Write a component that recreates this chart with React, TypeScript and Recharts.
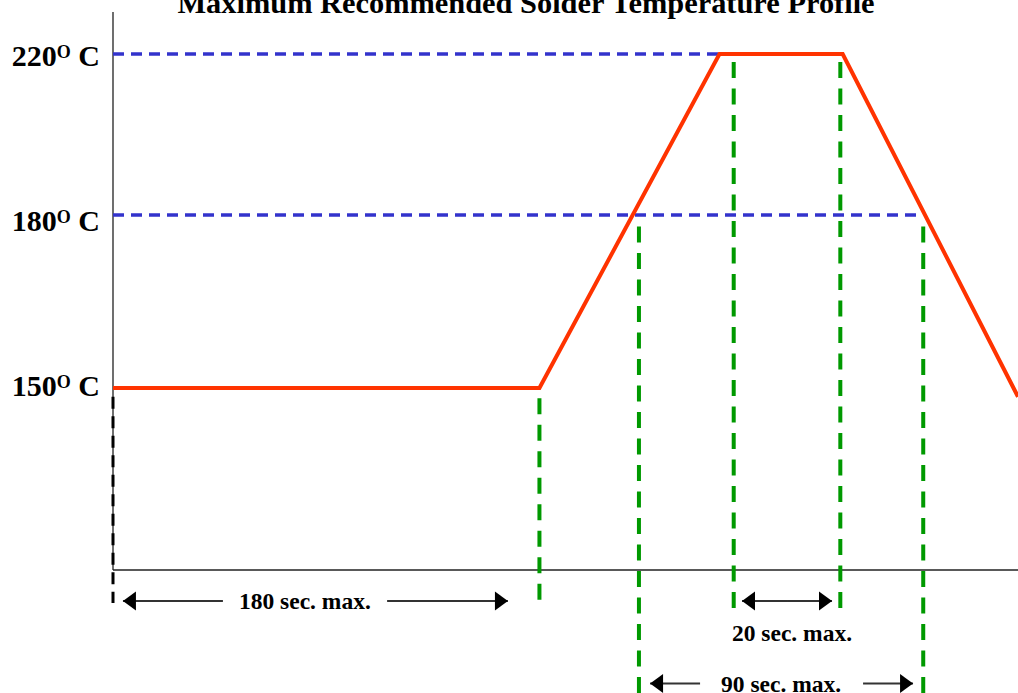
import React from 'react';
import { ComposedChart, Line, XAxis, YAxis } from 'recharts';

// ---------- data ----------
const TITLE = 'Maximum Recommended Solder Temperature Profile';

// schematic time (s) and temperature (°C) of the red profile
const PROFILE_TIME = [0, 180, 256, 308, 382];
const PROFILE_TEMP = [150, 150, 220, 220, 144];

// y-axis labels
const Y_TICKS = [150, 180, 220];

// axis extents
const TIME_DOMAIN = [0, 382];
const AXIS_BASE_TEMP = 25;
const AXIS_TOP_TEMP = 230;
const BELOW_AXIS_FLOOR = -60;

// horizontal (blue) guides
const H_GUIDE_TEMP = [220, 180];
const H_GUIDE_END_TIME = [256, 341];

// vertical guides
const V_GUIDE_TIME = [0, 180, 222, 262, 307, 342];
const V_GUIDE_TOP = [144, 143, 178, 218, 218, 178];
const V_GUIDE_BOTTOM = [2.2, 4.3, -60, -3, -3, -60];
const V_GUIDE_KIND = ['black', 'green', 'green', 'green', 'green', 'green'];

// span annotations (arrows below the time axis)
const ARROW_FROM = [46.4, 115.7, 284.5, 284.5, 247.8, 316.6];
const ARROW_TO = [4.2, 166.7, 265.5, 303.5, 226.7, 337.7];
const ARROW_LEVEL = [3.6, 3.6, 3.6, 3.6, -53.4, -53.4];

const SPAN_LABELS = ['180 sec. max.', '20 sec. max.', '90 sec. max.'];
const SPAN_LABEL_TIME = [81, 286.6, 282];
const SPAN_LABEL_LEVEL = [3.6, -18.5, -53.4];

// ---------- schematic (piecewise) temperature scale ----------
const Y_BREAK_TEMP = [BELOW_AXIS_FLOOR, AXIS_BASE_TEMP, 150, 180, 220, AXIS_TOP_TEMP];
const Y_BREAK_FRACTION = [0, 0.18062, 0.44787, 0.70191, 0.93833, 1];

function makeSchematicScale(knots: number[], fracs: number[], d0?: any[], r0?: any[]): any {
  let dom: any[] = d0 ? d0.slice() : [knots[0], knots[knots.length - 1]];
  let rng: any[] = r0 ? r0.slice() : [0, 1];
  const frac = (v: number) => {
    const n = knots.length;
    let i = 0;
    while (i < n - 2 && v > knots[i + 1]) i++;
    const t = (v - knots[i]) / (knots[i + 1] - knots[i]);
    return fracs[i] + t * (fracs[i + 1] - fracs[i]);
  };
  const scale: any = (v: any) => {
    const a = frac(Number(dom[0]));
    const b = frac(Number(dom[dom.length - 1]));
    const ra = Number(rng[0]);
    const rb = Number(rng[rng.length - 1]);
    return ra + ((frac(Number(v)) - a) / (b - a)) * (rb - ra);
  };
  scale.domain = (d?: any[]) => {
    if (d === undefined) return dom.slice();
    dom = d.slice();
    return scale;
  };
  scale.range = (r?: any[]) => {
    if (r === undefined) return rng.slice();
    rng = r.slice();
    return scale;
  };
  scale.copy = () => makeSchematicScale(knots, fracs, dom, rng);
  scale.ticks = () => knots.slice();
  return scale;
}

const tempScale = makeSchematicScale(Y_BREAK_TEMP, Y_BREAK_FRACTION);

// ---------- styles ----------
const SERIF = "'Liberation Serif', 'Times New Roman', Times, serif";
const RED = '#FF3300';
const BLUE = '#3333CC';
const GREEN = '#009900';
const Y_LABEL_BASELINE_SHIFT: Record<number, number> = { 150: 7.5, 180: 16.5, 220: 12 };

const TempTick = (props: any) => {
  const { x, y, payload } = props;
  const v = payload.value as number;
  return (
    <text
      x={x}
      y={y + (Y_LABEL_BASELINE_SHIFT[v] ?? 10)}
      textAnchor="end"
      fontFamily={SERIF}
      fontWeight="bold"
      fontSize={30}
      fill="#000"
      style={{ whiteSpace: 'pre' }}
    >
      <tspan>{String(v)}</tspan>
      <tspan fontSize={18} dy={-8}>O</tspan>
      <tspan dy={8}>{' C'}</tspan>
    </text>
  );
};

const arrowHeadDot = (dir: number) => (props: any) => {
  const { cx, cy, index } = props;
  if (index !== 1 || cx == null || cy == null) return <g key={`n${index}`} />;
  const L = 13;
  const H = 9.5;
  return (
    <polygon
      key={`h${index}`}
      points={`${cx},${cy} ${cx - dir * L},${cy - H} ${cx - dir * L},${cy + H}`}
      fill="#000"
    />
  );
};

const labelDot = (text: string) => (props: any) => {
  const { cx, cy } = props;
  if (cx == null || cy == null) return <g key="e" />;
  return (
    <text
      key="l"
      x={cx}
      y={cy + 8.5}
      textAnchor="middle"
      fontFamily={SERIF}
      fontWeight="bold"
      fontSize={23.5}
      fill="#000"
    >
      {text}
    </text>
  );
};

export default function App() {
  const profile = PROFILE_TIME.map((t, i) => ({ t, v: PROFILE_TEMP[i] }));
  const yAxisLine = [
    { t: TIME_DOMAIN[0], v: AXIS_BASE_TEMP },
    { t: TIME_DOMAIN[0], v: AXIS_TOP_TEMP },
  ];
  const xAxisLine = [
    { t: TIME_DOMAIN[0], v: AXIS_BASE_TEMP },
    { t: TIME_DOMAIN[1], v: AXIS_BASE_TEMP },
  ];

  return (
    <div style={{ position: 'absolute', left: 0, top: 0, width: 1018, height: 693, background: '#fff' }}>
      <ComposedChart width={1018} height={693} margin={{ top: 12, right: 0, bottom: 0, left: 0 }}>
        <XAxis type="number" dataKey="t" domain={TIME_DOMAIN} hide />
        <YAxis
          type="number"
          domain={[BELOW_AXIS_FLOOR, AXIS_TOP_TEMP]}
          scale={tempScale}
          ticks={Y_TICKS}
          interval={0}
          width={113}
          axisLine={false}
          tickLine={false}
          tickSize={0}
          tickMargin={13}
          tick={<TempTick />}
        />

        {/* axis lines */}
        <Line data={yAxisLine} dataKey="v" stroke="#555" strokeWidth={1.7} dot={false} activeDot={false} isAnimationActive={false} />
        <Line data={xAxisLine} dataKey="v" stroke="#222" strokeWidth={1.7} dot={false} activeDot={false} isAnimationActive={false} />

        {/* blue horizontal guides */}
        {H_GUIDE_TEMP.map((temp, i) => (
          <Line
            key={`hg${i}`}
            data={[
              { t: TIME_DOMAIN[0], v: temp },
              { t: H_GUIDE_END_TIME[i], v: temp },
            ]}
            dataKey="v"
            stroke={BLUE}
            strokeWidth={3.3}
            strokeDasharray="11 7"
            dot={false}
            activeDot={false}
            isAnimationActive={false}
          />
        ))}

        {/* vertical guides */}
        {V_GUIDE_TIME.map((t, i) => (
          <Line
            key={`vg${i}`}
            data={[
              { t, v: V_GUIDE_TOP[i] },
              { t, v: V_GUIDE_BOTTOM[i] },
            ]}
            dataKey="v"
            stroke={V_GUIDE_KIND[i] === 'black' ? '#000' : GREEN}
            strokeWidth={V_GUIDE_KIND[i] === 'black' ? 3 : 4}
            strokeDasharray={V_GUIDE_KIND[i] === 'black' ? '12 7.5' : '16 10.5'}
            dot={false}
            activeDot={false}
            isAnimationActive={false}
          />
        ))}

        {/* span arrows */}
        {ARROW_FROM.map((from, i) => (
          <Line
            key={`ar${i}`}
            data={[
              { t: from, v: ARROW_LEVEL[i] },
              { t: ARROW_TO[i], v: ARROW_LEVEL[i] },
            ]}
            dataKey="v"
            stroke="#333"
            strokeWidth={2}
            dot={arrowHeadDot(Math.sign(ARROW_TO[i] - from))}
            activeDot={false}
            isAnimationActive={false}
          />
        ))}

        {/* span labels */}
        {SPAN_LABELS.map((text, i) => (
          <Line
            key={`lb${i}`}
            data={[{ t: SPAN_LABEL_TIME[i], v: SPAN_LABEL_LEVEL[i] }]}
            dataKey="v"
            stroke="none"
            dot={labelDot(text)}
            activeDot={false}
            isAnimationActive={false}
          />
        ))}

        {/* temperature profile */}
        <Line
          data={profile}
          dataKey="v"
          type="linear"
          stroke={RED}
          strokeWidth={4}
          dot={false}
          activeDot={false}
          isAnimationActive={false}
        />
      </ComposedChart>
      <svg width={1018} height={40} style={{ position: 'absolute', left: 0, top: 0, pointerEvents: 'none' }}>
        <text x={526} y={13} textAnchor="middle" fontFamily={SERIF} fontWeight="bold" fontSize={30.4} fill="#000">
          {TITLE}
        </text>
      </svg>
    </div>
  );
}
